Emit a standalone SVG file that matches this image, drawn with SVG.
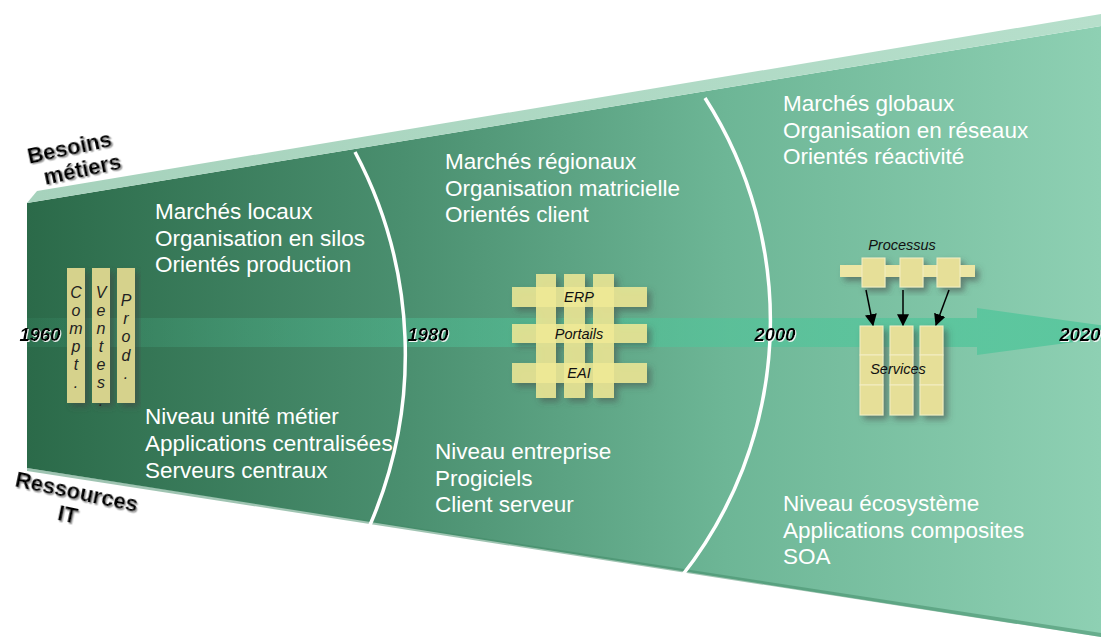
<svg xmlns="http://www.w3.org/2000/svg" width="1101" height="637" viewBox="0 0 1101 637">
<defs>
  <linearGradient id="body" x1="27" y1="0" x2="1101" y2="0" gradientUnits="userSpaceOnUse">
    <stop offset="0" stop-color="#2b6a49"/>
    <stop offset="0.35" stop-color="#4a8f6f"/>
    <stop offset="0.65" stop-color="#6db696"/>
    <stop offset="1" stop-color="#8ed0b3"/>
  </linearGradient>
  <linearGradient id="band" x1="27" y1="0" x2="1101" y2="0" gradientUnits="userSpaceOnUse">
    <stop offset="0" stop-color="#a6d2bc"/>
    <stop offset="1" stop-color="#b6dfcb"/>
  </linearGradient>
  <linearGradient id="shaft" x1="27" y1="0" x2="1101" y2="0" gradientUnits="userSpaceOnUse">
    <stop offset="0" stop-color="#4fc59a" stop-opacity="0.08"/>
    <stop offset="0.4" stop-color="#4fc59a" stop-opacity="0.45"/>
    <stop offset="1" stop-color="#4fc59a" stop-opacity="0.8"/>
  </linearGradient>
  <filter id="sh" x="-30%" y="-30%" width="160%" height="160%">
    <feDropShadow dx="4" dy="4" stdDeviation="3" flood-color="#444" flood-opacity="0.55"/>
  </filter>
  <filter id="wsh" x="-20%" y="-30%" width="140%" height="160%">
    <feDropShadow dx="1" dy="1" stdDeviation="0.4" flood-color="#ffffff" flood-opacity="0.9"/>
  </filter>
  <filter id="gsh" x="-20%" y="-30%" width="140%" height="160%">
    <feDropShadow dx="1.5" dy="1.5" stdDeviation="0.6" flood-color="#888" flood-opacity="0.8"/>
  </filter>
  <marker id="ahb" viewBox="0 0 10 10" refX="9" refY="5" markerWidth="12" markerHeight="12" markerUnits="userSpaceOnUse" orient="auto">
    <path d="M0,0 L10,5 L0,10 z" fill="#000"/>
  </marker>
</defs>
<style>
  .wt { font-family: "Liberation Sans", Arial, sans-serif; font-size: 22.5px; fill: #ffffff; }
  .yr { font-family: "Liberation Sans", Arial, sans-serif; font-size: 18.5px; font-weight: bold; font-style: italic; fill: #000; filter: url(#wsh); }
  .side { font-family: "Liberation Sans", Arial, sans-serif; font-size: 22px; font-weight: bold; fill: #000; filter: url(#gsh); }
  .it { font-family: "Liberation Sans", Arial, sans-serif; font-size: 14.5px; font-style: italic; fill: #111; }
  .vt { font-family: "Liberation Sans", Arial, sans-serif; font-size: 16px; font-style: italic; fill: #222; }
  .col { fill: #d6d28c; filter: url(#sh); }
  .bar { fill: #f0ea96; opacity: 0.85; }
  .cell { fill: #e6df98; stroke: #f3eec4; stroke-width: 1; }
  .arc { fill: none; stroke: #ffffff; stroke-width: 3.5; }
</style>

<g id="funnel">
  <polygon points="27,203 1101,26 1101,637 27,468" fill="url(#body)"/>
  <polygon points="27,203 37,191 1101,14 1101,26" fill="url(#band)"/>
  <polygon points="27,468 1101,633 1101,637 27,471" fill="#3f8a66" opacity="0.5"/>
  <polygon points="27,318 977,318 977,308 1150,332 977,355 977,347 27,347" fill="url(#shaft)"/>
  <path class="arc" d="M355,152 A431,431 0 0 1 370,525"/>
  <path class="arc" d="M705,98 A412,412 0 0 1 681,577"/>
</g>

<g id="labels-side">
  <g transform="rotate(-12 70 150)">
    <text class="side" x="70" y="155" text-anchor="middle">Besoins</text>
    <text class="side" x="78" y="179" text-anchor="middle">métiers</text>
  </g>
  <g transform="rotate(12 75 495)">
    <text class="side" x="76" y="499" text-anchor="middle">Ressources</text>
    <text class="side" x="72" y="523" text-anchor="middle">IT</text>
  </g>
</g>

<g id="years">
  <text class="yr" x="40" y="341" text-anchor="middle">1960</text>
  <text class="yr" x="428" y="341" text-anchor="middle">1980</text>
  <text class="yr" x="775" y="341" text-anchor="middle">2000</text>
  <text class="yr" x="1080" y="341" text-anchor="middle">2020</text>
</g>

<g id="era1960">
  <text class="wt" x="155" y="219">Marchés locaux</text>
  <text class="wt" x="155" y="246">Organisation en silos</text>
  <text class="wt" x="155" y="272">Orientés production</text>
  <text class="wt" x="145" y="424">Niveau unité métier</text>
  <text class="wt" x="145" y="451">Applications centralisées</text>
  <text class="wt" x="145" y="478">Serveurs centraux</text>
</g>

<g id="silos">
  <rect class="col" x="67" y="268" width="18" height="135"/>
  <rect class="col" x="92" y="268" width="18" height="135"/>
  <rect class="col" x="117" y="268" width="18" height="135"/>
  <text class="vt" text-anchor="middle">
    <tspan x="76" y="298">C</tspan><tspan x="76" y="316">o</tspan><tspan x="76" y="334">m</tspan><tspan x="76" y="352">p</tspan><tspan x="76" y="370">t</tspan><tspan x="76" y="388">.</tspan>
  </text>
  <text class="vt" text-anchor="middle">
    <tspan x="101" y="298">V</tspan><tspan x="101" y="316">e</tspan><tspan x="101" y="334">n</tspan><tspan x="101" y="352">t</tspan><tspan x="101" y="370">e</tspan><tspan x="101" y="388">s</tspan><tspan x="101" y="406">.</tspan>
  </text>
  <text class="vt" text-anchor="middle">
    <tspan x="126" y="306">P</tspan><tspan x="126" y="324">r</tspan><tspan x="126" y="342">o</tspan><tspan x="126" y="361">d</tspan><tspan x="126" y="379">.</tspan>
  </text>
</g>

<g id="era1980">
  <text class="wt" x="445" y="169">Marchés régionaux</text>
  <text class="wt" x="445" y="196">Organisation matricielle</text>
  <text class="wt" x="445" y="222">Orientés client</text>
  <text class="wt" x="435" y="459">Niveau entreprise</text>
  <text class="wt" x="435" y="486">Progiciels</text>
  <text class="wt" x="435" y="512">Client serveur</text>
</g>

<g id="progiciels">
  <g filter="url(#sh)">
    <rect class="bar" x="536" y="274" width="20" height="124"/>
    <rect class="bar" x="564" y="274" width="21" height="124"/>
    <rect class="bar" x="593" y="274" width="21" height="124"/>
    <rect class="bar" x="512" y="287" width="135" height="20"/>
    <rect class="bar" x="512" y="324" width="135" height="19"/>
    <rect class="bar" x="512" y="363" width="135" height="20"/>
  </g>
  <text class="it" x="579" y="302" text-anchor="middle">ERP</text>
  <text class="it" x="579" y="339" text-anchor="middle">Portails</text>
  <text class="it" x="579" y="378" text-anchor="middle">EAI</text>
</g>

<g id="era2000">
  <text class="wt" x="783" y="111">Marchés globaux</text>
  <text class="wt" x="783" y="138">Organisation en réseaux</text>
  <text class="wt" x="783" y="164">Orientés réactivité</text>
  <text class="wt" x="783" y="511">Niveau écosystème</text>
  <text class="wt" x="783" y="538">Applications composites</text>
  <text class="wt" x="783" y="564">SOA</text>
</g>

<g id="processus">
  <text class="it" x="902" y="250" text-anchor="middle">Processus</text>
  <g filter="url(#sh)">
    <rect x="840" y="265" width="135" height="12" fill="#ece6a4"/>
    <rect class="cell" x="862" y="258" width="23" height="29"/>
    <rect class="cell" x="900" y="258" width="23" height="29"/>
    <rect class="cell" x="937" y="258" width="23" height="29"/>
  </g>
</g>

<g id="services">
  <g filter="url(#sh)">
    <rect class="cell" x="860" y="326" width="23" height="29"/>
    <rect class="cell" x="860" y="355" width="23" height="30"/>
    <rect class="cell" x="860" y="385" width="23" height="30"/>
    <rect class="cell" x="890" y="326" width="23" height="29"/>
    <rect class="cell" x="890" y="355" width="23" height="30"/>
    <rect class="cell" x="890" y="385" width="23" height="30"/>
    <rect class="cell" x="920" y="326" width="23" height="29"/>
    <rect class="cell" x="920" y="355" width="23" height="30"/>
    <rect class="cell" x="920" y="385" width="23" height="30"/>
  </g>
  <text class="it" x="898" y="374" text-anchor="middle" font-size="15.5">Services</text>
</g>

<g id="connectors" stroke="#000" stroke-width="1.5" fill="none">
  <line x1="866" y1="290" x2="873" y2="325" marker-end="url(#ahb)"/>
  <line x1="903" y1="290" x2="903" y2="325" marker-end="url(#ahb)"/>
  <line x1="949" y1="290" x2="936" y2="325" marker-end="url(#ahb)"/>
</g>
</svg>
